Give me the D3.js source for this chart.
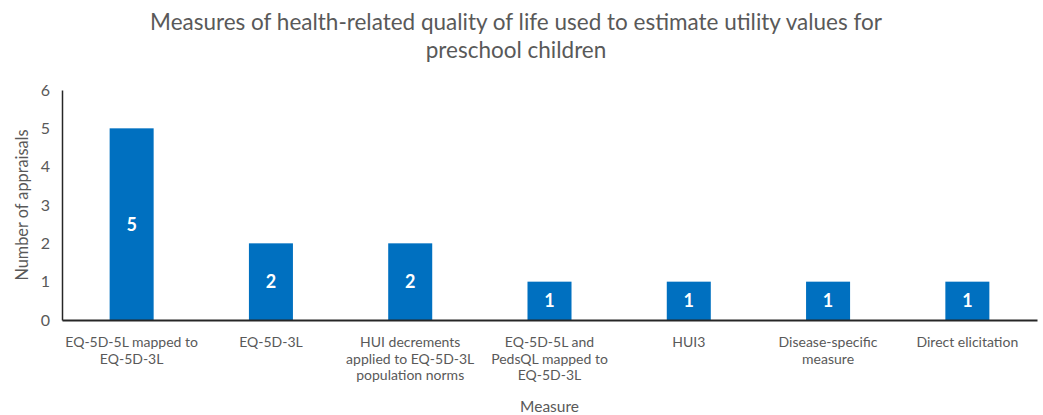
<!DOCTYPE html>
<html><head><meta charset="utf-8">
<script src="https://cdn.jsdelivr.net/npm/d3@7"></script>
<style>body{margin:0;background:#fff}svg{display:block}text{font-family:Lato,"Open Sans",sans-serif}</style>
</head><body><svg id="c" width="1043" height="415"></svg>
<script>
const categories = ["EQ-5D-5L mapped to\nEQ-5D-3L","EQ-5D-3L","HUI decrements\napplied to EQ-5D-3L\npopulation norms","EQ-5D-5L and\nPedsQL mapped to\nEQ-5D-3L","HUI3","Disease-specific\nmeasure","Direct elicitation"];
const values = [5,2,2,1,1,1,1];
const yTicks = [0,1,2,3,4,5,6];
const titleLines = ["Measures of health-related quality of life used to estimate utility values for","preschool children"];
const xTitle = "Measure", yTitle = "Number of appraisals";

(function(){
const svg = d3.select("#c");
const mL = 62, mR = 1037, mT = 90, mB = 320;
const x = d3.scaleBand().domain(categories).range([mL, mR]).padding(0);
const y = d3.scaleLinear().domain([0,6]).range([mB, mT]);
const bw = x.bandwidth()*0.316;
const grey = "#595959";

const tt = svg.append("text").attr("text-anchor","middle").attr("fill",grey).style("font-size","22.5px");
titleLines.forEach((l,i)=>tt.append("tspan").attr("x",516).attr("y",30+i*28).text(l));

svg.selectAll("rect.bar").data(values).join("rect").attr("class","bar")
  .attr("x",(d,i)=>x(categories[i])+x.bandwidth()/2-bw/2).attr("width",bw)
  .attr("y",d=>y(d)).attr("height",d=>y(0)-y(d)).attr("fill","#0070C0");
svg.selectAll("text.val").data(values).join("text").attr("class","val")
  .attr("x",(d,i)=>x(categories[i])+x.bandwidth()/2).attr("y",d=>y(d/2)+6.5)
  .attr("text-anchor","middle").attr("fill","#fff").style("font-size","18px").style("font-weight","bold").text(d=>d);

const ya = svg.append("g").attr("transform",`translate(${mL},0)`).call(d3.axisLeft(y).tickValues(yTicks).tickFormat(d3.format("d")).tickSize(0).tickPadding(12));
ya.select(".domain").attr("stroke","#262626").attr("stroke-width",1.5);
ya.selectAll("text").attr("fill",grey).style("font-size","16px").style("font-family","Lato,sans-serif");
const xa = svg.append("g").attr("transform",`translate(0,${mB})`).call(d3.axisBottom(x).tickSize(0).tickFormat(""));
xa.select(".domain").attr("stroke","#262626").attr("stroke-width",2);
categories.forEach(c=>{
  const t = svg.append("text").attr("text-anchor","middle").attr("fill",grey).style("font-size","14px");
  c.split("\n").forEach((l,i)=>t.append("tspan").attr("x",x(c)+x.bandwidth()/2).attr("y",347+i*16.5).text(l));
});
svg.append("text").attr("x",(mL+mR)/2).attr("y",412).attr("text-anchor","middle").attr("fill",grey).style("font-size","15.5px").text(xTitle);
svg.append("text").attr("transform",`translate(28,205) rotate(-90)`).attr("text-anchor","middle").attr("fill",grey).style("font-size","16.3px").text(yTitle);
})();
</script></body></html>
